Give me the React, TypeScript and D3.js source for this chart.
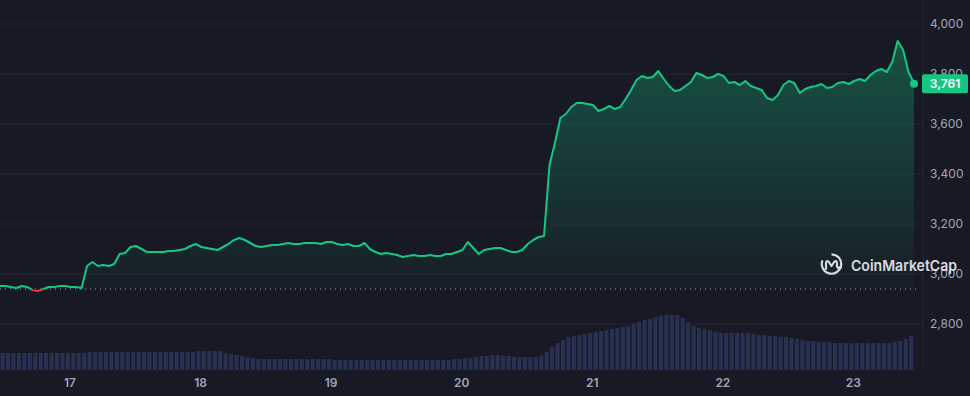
import React, { useEffect, useRef } from 'react';
import * as d3 from 'd3';

// hourly price (USD), starting 16 May ~11:00
const PRICE = [
  2952, 2952, 2948, 2944, 2952, 2948, 2936, 2932, 2940, 2948, 2948, 2952, 2952, 2948, 2948, 2944,
  3032, 3048, 3032, 3036, 3032, 3040, 3080, 3084, 3108, 3112, 3100, 3088, 3088, 3088, 3088, 3092,
  3092, 3096, 3100, 3112, 3120, 3108, 3104, 3100, 3096, 3108, 3120, 3136, 3144, 3136, 3124, 3112,
  3108, 3112, 3116, 3116, 3120, 3124, 3120, 3120, 3124, 3124, 3124, 3120, 3128, 3128, 3120, 3116,
  3120, 3112, 3112, 3124, 3100, 3088, 3080, 3084, 3080, 3076, 3068, 3072, 3076, 3072, 3072, 3076,
  3072, 3072, 3080, 3080, 3088, 3096, 3128, 3104, 3080, 3096, 3100, 3104, 3104, 3096, 3088, 3088,
  3096, 3120, 3136, 3148, 3152, 3436, 3524, 3624, 3640, 3668, 3684, 3684, 3680, 3676, 3652, 3660,
  3672, 3660, 3668, 3700, 3736, 3776, 3792, 3784, 3788, 3812, 3780, 3752, 3732, 3736, 3752, 3768,
  3804, 3796, 3784, 3788, 3800, 3792, 3764, 3768, 3756, 3772, 3752, 3744, 3736, 3704, 3696, 3716,
  3756, 3772, 3764, 3724, 3740, 3748, 3752, 3760, 3744, 3748, 3764, 3768, 3760, 3772, 3780, 3772,
  3796, 3812, 3820, 3808, 3848, 3932, 3896, 3808, 3761,
];

// hourly volume (relative units)
const VOLUME = [
  17, 17, 17, 17, 17, 17, 17, 17, 17, 17, 17, 17, 17, 17, 17, 17,
  18, 18, 18, 18, 18, 18, 18, 18, 18, 18, 18, 18, 18, 18, 18, 18, 18, 18, 18, 18,
  19, 19, 19, 19, 19, 17, 16, 15, 14, 13, 12,
  11, 11, 11, 11, 11, 11, 11, 11, 11, 11, 11, 11, 11, 11,
  10, 10, 10, 10, 10, 10, 10, 10, 10, 10, 10, 10, 10, 10, 10, 10, 10, 10, 10, 10, 10, 10,
  11, 11, 12, 12, 13, 14, 14, 15, 15, 14, 14, 13, 13, 13, 13, 13, 14,
  18, 23, 27, 30, 33, 34, 35, 36, 37, 38, 39, 40, 41, 42, 43, 44, 46, 48, 50, 51, 53, 54, 55, 55, 55,
  52, 48, 44, 42, 41, 40, 38, 37, 37, 37, 37, 37, 37, 36, 35, 35, 34, 34, 33, 33, 32, 31,
  30, 29, 29, 28, 28, 28, 27, 27, 27, 27, 27, 27, 27, 27, 27, 27, 27, 28, 29, 31, 34,
];

const Y_TICKS = [2800, 3000, 3200, 3400, 3600, 3800, 4000];
const START = new Date(2024, 4, 16, 11, 8);
const BASE_PRICE = 2940;

const GREEN = '#16c784';
const RED = '#ea3943';
const BG = '#171924';

export default function App() {
  const svgRef = useRef<SVGSVGElement>(null);

  useEffect(() => {
    if (!svgRef.current) return;
    const svg = d3.select(svgRef.current);
    svg.selectAll('*').remove();

    const width = 970;
    const height = 396;
    const plotRight = 923;
    const font = 'Inter, "Noto Sans", sans-serif';

    const times = PRICE.map((_, i) => d3.timeHour.offset(START, i));
    const x = d3.scaleTime()
      .domain([START, times[times.length - 1]])
      .range([0, 914]);
    const y = d3.scaleLinear().domain([2800, 4000]).range([324, 24]);
    const yVol = d3.scaleLinear().domain([0, 60]).range([370, 310]);
    const baseY = y(BASE_PRICE);

    svg.append('rect').attr('width', width).attr('height', height).attr('fill', BG);

    const defs = svg.append('defs');
    const grad = defs.append('linearGradient')
      .attr('id', 'areaGrad')
      .attr('gradientUnits', 'userSpaceOnUse')
      .attr('x1', 0).attr('x2', 0)
      .attr('y1', y(3900)).attr('y2', baseY);
    grad.append('stop').attr('offset', 0).attr('stop-color', GREEN).attr('stop-opacity', 0.32);
    grad.append('stop').attr('offset', 1).attr('stop-color', GREEN).attr('stop-opacity', 0.03);

    defs.append('clipPath').attr('id', 'above')
      .append('rect').attr('x', 0).attr('y', 0).attr('width', width).attr('height', baseY);
    defs.append('clipPath').attr('id', 'below')
      .append('rect').attr('x', 0).attr('y', baseY).attr('width', width).attr('height', height - baseY);

    // grid lines
    svg.append('g')
      .selectAll('line')
      .data(Y_TICKS)
      .join('line')
      .attr('x1', 0)
      .attr('x2', plotRight)
      .attr('y1', d => y(d))
      .attr('y2', d => y(d))
      .attr('stroke', '#222531')
      .attr('stroke-width', 1);

    svg.append('line')
      .attr('x1', plotRight + 0.5).attr('x2', plotRight + 0.5)
      .attr('y1', 0).attr('y2', 370)
      .attr('stroke', '#222531');

    // volume bars
    const step = x(times[1]) - x(times[0]);
    svg.append('g')
      .selectAll('rect')
      .data(VOLUME)
      .join('rect')
      .attr('x', (_, i) => x(times[i]) + 0.6)
      .attr('width', step - 1.4)
      .attr('y', d => yVol(d))
      .attr('height', d => yVol(0) - yVol(d))
      .attr('fill', '#283152');

    // area + line
    const area = d3.area<number>()
      .x((_, i) => x(times[i]))
      .y0(baseY)
      .y1(d => y(d));
    const line = d3.line<number>()
      .x((_, i) => x(times[i]))
      .y(d => y(d));

    svg.append('path')
      .datum(PRICE)
      .attr('d', area)
      .attr('fill', 'url(#areaGrad)')
      .attr('clip-path', 'url(#above)');

    svg.append('path')
      .datum(PRICE)
      .attr('d', area)
      .attr('fill', RED)
      .attr('fill-opacity', 0.15)
      .attr('clip-path', 'url(#below)');

    // baseline (open price)
    svg.append('line')
      .attr('x1', 0).attr('x2', plotRight - 4)
      .attr('y1', baseY).attr('y2', baseY)
      .attr('stroke', '#a1a7bb')
      .attr('stroke-width', 1)
      .attr('stroke-dasharray', '1,4');

    svg.append('path')
      .datum(PRICE)
      .attr('d', line)
      .attr('fill', 'none')
      .attr('stroke', GREEN)
      .attr('stroke-width', 2)
      .attr('stroke-linejoin', 'round')
      .attr('clip-path', 'url(#above)');

    svg.append('path')
      .datum(PRICE)
      .attr('d', line)
      .attr('fill', 'none')
      .attr('stroke', RED)
      .attr('stroke-width', 2)
      .attr('stroke-linejoin', 'round')
      .attr('clip-path', 'url(#below)');

    // y axis labels
    svg.append('g')
      .selectAll('text')
      .data(Y_TICKS)
      .join('text')
      .attr('x', 930)
      .attr('y', d => y(d))
      .attr('dy', '0.35em')
      .attr('fill', '#a1a7bb')
      .style('font-family', font)
      .style('font-size', '12px')
      .text(d => d3.format(',')(d));

    // x axis labels
    const days = d3.timeDay.range(d3.timeDay.ceil(START), times[times.length - 1]);
    svg.append('g')
      .selectAll('text')
      .data(days)
      .join('text')
      .attr('x', d => x(d))
      .attr('y', 387)
      .attr('text-anchor', 'middle')
      .attr('fill', '#a1a7bb')
      .style('font-family', font)
      .style('font-size', '12px')
      .style('font-weight', 600)
      .text(d => d3.timeFormat('%-d')(d));

    // last price marker
    const last = PRICE[PRICE.length - 1];
    const lastX = x(times[times.length - 1]);
    svg.append('circle')
      .attr('cx', lastX).attr('cy', y(last)).attr('r', 4)
      .attr('fill', GREEN);
    svg.append('rect')
      .attr('x', 922).attr('y', y(last) - 9.5)
      .attr('width', 46).attr('height', 19)
      .attr('rx', 2)
      .attr('fill', GREEN);
    svg.append('text')
      .attr('x', 945).attr('y', y(last))
      .attr('dy', '0.35em')
      .attr('text-anchor', 'middle')
      .attr('fill', '#ffffff')
      .style('font-family', font)
      .style('font-size', '12px')
      .style('font-weight', 600)
      .text(d3.format(',')(last));

    // watermark
    const logo = svg.append('g').attr('transform', 'translate(831.5,264)').attr('opacity', 0.92);
    logo.append('path')
      .attr('d', d3.arc()({ innerRadius: 8.6, outerRadius: 10.8, startAngle: 0, endAngle: Math.PI * 1.62 }) as string)
      .attr('fill', '#e9eaf0');
    logo.append('path')
      .attr('d', 'M-5.5,5 L-5.5,-0.5 Q-5.5,-4.5 -2.6,-2 L0,2 L2.6,-2 Q5.5,-4.5 5.5,-0.5 L5.5,2.5 Q6.5,5 9.5,3')
      .attr('fill', 'none')
      .attr('stroke', '#e9eaf0')
      .attr('stroke-width', 2.2)
      .attr('stroke-linecap', 'round')
      .attr('stroke-linejoin', 'round');
    svg.append('text')
      .attr('x', 851).attr('y', 270.5)
      .attr('fill', '#e9eaf0')
      .attr('opacity', 0.92)
      .attr('textLength', 106)
      .attr('lengthAdjust', 'spacingAndGlyphs')
      .style('font-family', font)
      .style('font-size', '15px')
      .style('font-weight', 600)
      .text('CoinMarketCap');
  }, []);

  return (
    <svg
      ref={svgRef}
      width={970}
      height={396}
      style={{ position: 'absolute', left: 0, top: 0, display: 'block' }}
    />
  );
}
